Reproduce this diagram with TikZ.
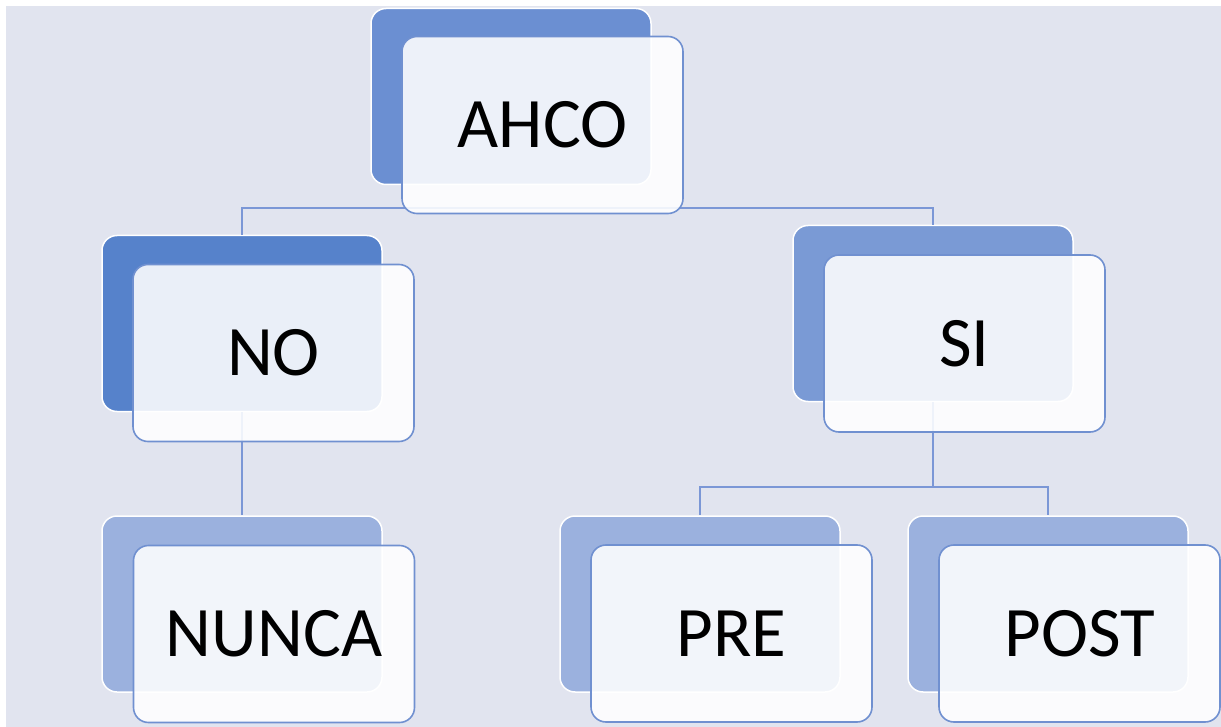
\documentclass[tikz,border=0pt]{standalone}
\usepackage{fontspec}
\setmainfont{Carlito}
\usepackage{tikz}
\usetikzlibrary{positioning}

\definecolor{bgpanel}{HTML}{E1E4EF}
\definecolor{backtop}{HTML}{6B8FD2}
\definecolor{backmid}{HTML}{5682CB}
\definecolor{backsi}{HTML}{7A9AD5}
\definecolor{backlow}{HTML}{9BB1DE}
\definecolor{frameblue}{HTML}{7090D0}
\definecolor{linkblue}{HTML}{7B97D6}

\tikzset{
    backbox/.style={draw=white, line width=1.5pt, rounded corners=15pt, inner sep=0pt,
        minimum width=280pt, minimum height=176pt},
    frontbox/.style={draw=frameblue, line width=1.6pt, rounded corners=15pt, inner sep=0pt,
        fill=white, fill opacity=0.88, text opacity=1,
        minimum width=281pt, minimum height=177pt, font=\fontsize{71}{80}\selectfont},
    link/.style={draw=linkblue, line width=1.6pt}
}

\begin{document}
\begin{tikzpicture}[x=1pt, y=-1pt]
    \useasboundingbox (0,0) rectangle (1221,727);
    \fill[bgpanel] (6,6) rectangle (1221,727);

    % back boxes
    \node [backbox, fill=backtop] (ahcob) at (511,96.5) {};
    \node [backbox, fill=backmid] (nob) at (242,323.5) {};
    \node [backbox, fill=backsi] (sib) at (933,313.5) {};
    \node [backbox, fill=backlow] (nunb) at (242,604) {};
    \node [backbox, fill=backlow] (preb) at (700,604) {};
    \node [backbox, fill=backlow] (postb) at (1048,604) {};

    % connectors
    \coordinate (ahcoj) at (511,208);
    \coordinate (sij) at (933,487);
    \draw[link] (nob.north) |- (ahcoj) -| (sib.north);
    \draw[link] (nob.south) -- (nunb.north);
    \draw[link] (sib.south) -- (sij) -| (preb.north);
    \draw[link] (sij) -| (postb.north);

    % front boxes
    \node [frontbox] (ahco) at (542.5,125) {AHCO};
    \node [frontbox] (no) at (273.5,353) {NO};
    \node [frontbox] (si) at (964.5,343.5) {SI};
    \node [frontbox] (nun) at (274,634) {NUNCA};
    \node [frontbox] (pre) at (731.5,633.5) {PRE};
    \node [frontbox] (post) at (1079.5,633.5) {POST};
\end{tikzpicture}
\end{document}
